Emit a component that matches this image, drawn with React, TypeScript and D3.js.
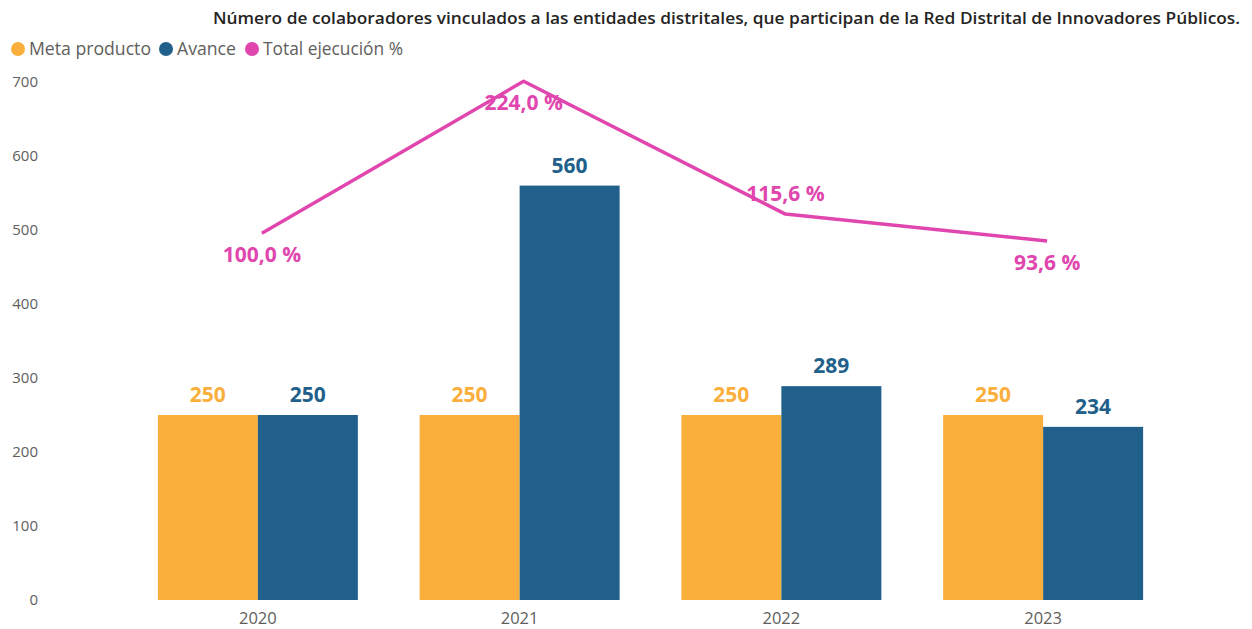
import React from "react";
import * as d3 from "d3";

const years = ["2020", "2021", "2022", "2023"];
const meta = [250, 250, 250, 250];
const avance = [250, 560, 289, 234];
const ejecucion = [100.0, 224.0, 115.6, 93.6];
const ejecLabelSide = ["below", "below", "above", "below"];
const yTicks = [0, 100, 200, 300, 400, 500, 600, 700];

const W = 1252;
const H = 629;
const ORANGE = "#FAAF3C";
const BLUE = "#21608A";
const PINK = "#E046AD";
const GRAY = "#605E5C";
const FONT = "'Segoe UI', 'Open Sans', sans-serif";

export default function App() {
  const x = d3.scaleBand<string>().domain(years).range([127, 1174]).paddingInner(0.236).paddingOuter(0.118);
  const x1 = d3.scaleBand<string>().domain(["meta", "avance"]).range([0, x.bandwidth()]);
  const y = d3.scaleLinear().domain([0, 700]).range([600, 82]);
  const y2 = d3.scaleLinear().domain([-199.3, 223.4]).range([600, 82]);
  const lineX = (i: number) => (x(years[i]) as number) + x.bandwidth() / 2 + 4;
  const line = d3.line<number>().x((_, i) => lineX(i)).y((d) => y2(d));
  const fmt = (v: number) => v.toFixed(1).replace(".", ",") + " %";

  const legend = [
    { label: "Meta producto", color: ORANGE, cx: 18, len: 122 },
    { label: "Avance", color: BLUE, cx: 166, len: 59 },
    { label: "Total ejecución %", color: PINK, cx: 252, len: 140 },
  ];

  return (
    <svg width={W} height={H} style={{ position: "absolute", left: 0, top: 0, fontFamily: FONT }}>
      <rect width={W} height={H} fill="#fff" />
      <text x={1240} y={24} textAnchor="end" fontSize={16} fontWeight={600} fill="#252423" textLength={1027} lengthAdjust="spacingAndGlyphs">
        Número de colaboradores vinculados a las entidades distritales, que participan de la Red Distrital de Innovadores Públicos.
      </text>
      {legend.map((l) => (
        <g key={l.label}>
          <circle cx={l.cx} cy={49} r={7} fill={l.color} />
          <text x={l.cx + 11} y={55} fontSize={17.5} fill={GRAY} textLength={l.len} lengthAdjust="spacingAndGlyphs">{l.label}</text>
        </g>
      ))}
      {yTicks.map((t) => (
        <text key={t} x={38} y={y(t) + 5} textAnchor="end" fontSize={15} fill={GRAY}>{t}</text>
      ))}
      {years.map((yr, i) => {
        const bx = x(yr) as number;
        const mx = bx + (x1("meta") as number);
        const ax = bx + (x1("avance") as number);
        const bw = x1.bandwidth();
        return (
          <g key={yr}>
            <rect x={mx} y={y(meta[i])} width={bw} height={y(0) - y(meta[i])} fill={ORANGE} />
            <rect x={ax} y={y(avance[i])} width={bw} height={y(0) - y(avance[i])} fill={BLUE} />
            <text x={mx + bw / 2} y={y(meta[i]) - 13} textAnchor="middle" fontSize={21} fontWeight={700} fill={ORANGE}>{meta[i]}</text>
            <text x={ax + bw / 2} y={y(avance[i]) - 13} textAnchor="middle" fontSize={21} fontWeight={700} fill={BLUE}>{avance[i]}</text>
            <text x={bx + x.bandwidth() / 2} y={624} textAnchor="middle" fontSize={16.5} fill={GRAY}>{yr}</text>
          </g>
        );
      })}
      <path d={line(ejecucion) as string} fill="none" stroke={PINK} strokeWidth={3.5} strokeLinejoin="round" />
      {ejecucion.map((v, i) => (
        <text key={i} x={lineX(i)} y={ejecLabelSide[i] === "below" ? y2(v) + 29 : y2(v) - 13} textAnchor="middle" fontSize={21} fontWeight={700} fill={PINK}>{fmt(v)}</text>
      ))}
    </svg>
  );
}
